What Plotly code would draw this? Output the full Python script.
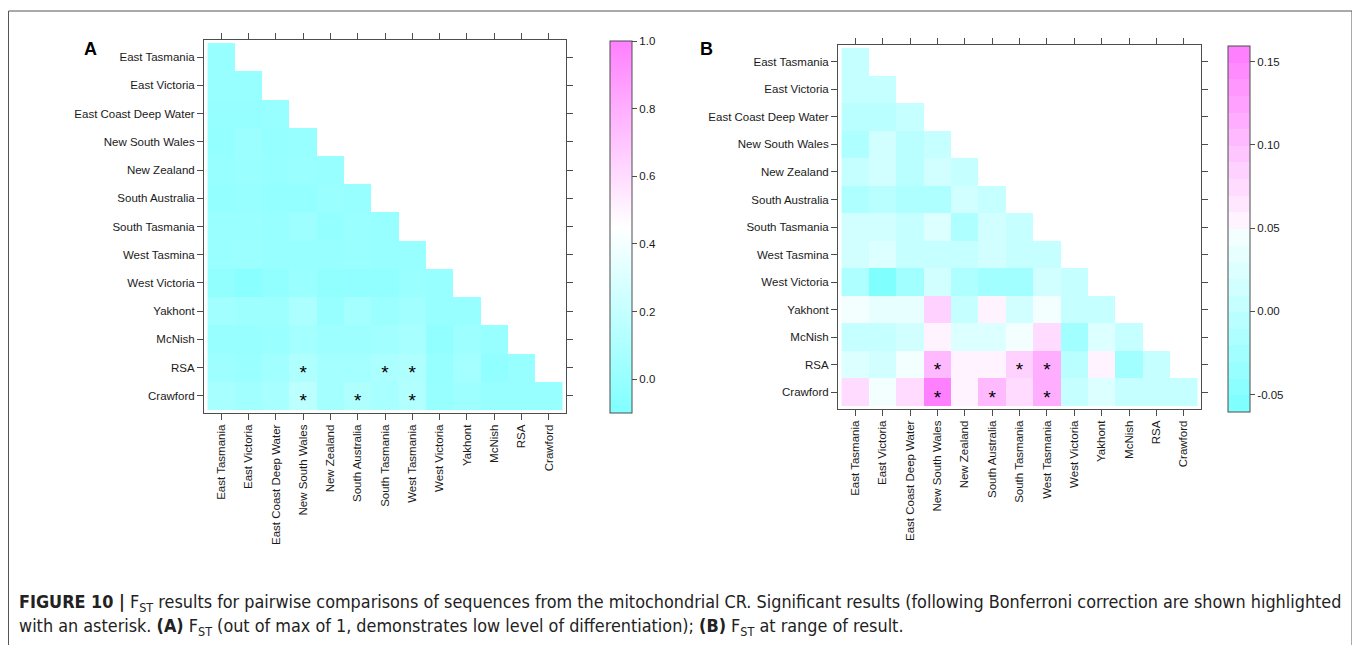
import colorsys
import plotly.graph_objects as go

# ---------------- data ----------------
row_labels = ["East Tasmania", "East Victoria", "East Coast Deep Water", "New South Wales",
              "New Zealand", "South Australia", "South Tasmania", "West Tasmina",
              "West Victoria", "Yakhont", "McNish", "RSA", "Crawford"]
col_labels = ["East Tasmania", "East Victoria", "East Coast Deep Water", "New South Wales",
              "New Zealand", "South Australia", "South Tasmania", "West Tasmania",
              "West Victoria", "Yakhont", "McNish", "RSA", "Crawford"]

# pairwise FST, lower triangle incl. diagonal (row i has i+1 values)
fst_rows = [
    [0.000],
    [0.000, 0.000],
    [-0.010, -0.010, 0.000],
    [-0.012, 0.015, -0.010, 0.000],
    [0.000, 0.012, -0.005, 0.012, 0.000],
    [-0.012, -0.002, -0.012, -0.012, 0.012, 0.000],
    [0.012, 0.012, 0.000, 0.025, -0.015, 0.012, 0.000],
    [0.010, 0.022, 0.000, 0.000, 0.000, 0.010, 0.000, 0.000],
    [-0.020, -0.055, -0.025, 0.012, -0.020, -0.025, -0.025, 0.012, 0.000],
    [0.045, 0.030, 0.030, 0.085, 0.000, 0.055, 0.015, 0.045, 0.000, 0.000],
    [0.000, 0.000, 0.012, 0.055, 0.025, 0.025, 0.045, 0.070, -0.025, 0.025, 0.000],
    [0.025, 0.012, 0.045, 0.105, 0.055, 0.055, 0.085, 0.110, -0.005, 0.055, -0.025, 0.000],
    [0.070, 0.045, 0.070, 0.155, 0.055, 0.105, 0.070, 0.115, 0.000, 0.025, 0.000, 0.000, 0.000],
]

# significant pairs
sig_rows = ["RSA", "RSA", "RSA", "Crawford", "Crawford", "Crawford"]
sig_cols = ["New South Wales", "South Tasmania", "West Tasmania",
            "New South Wales", "South Australia", "West Tasmania"]

a_ticks = [0.0, 0.2, 0.4, 0.6, 0.8, 1.0]
b_ticks = [-0.05, 0.00, 0.05, 0.10, 0.15]

# ---------------- helpers ----------------
OFF = 8  # page body margin
W, H = 1360 - OFF, 645 - OFF
def px(x):
    return (x - OFF) / W
def py(y):
    return 1 - (y - OFF) / H

n = len(row_labels)
z = [[(fst_rows[i][j] if j <= i else None) for j in range(n)] for i in range(n)]
idx = list(range(n))

def hsv_hex(h, s, v=1.0):
    r, g, b = colorsys.hsv_to_rgb(h, s, v)
    return "#%02x%02x%02x" % (round(r * 255), round(g * 255), round(b * 255))

# cm.colors(22) stepped scale for panel B
ncol = 22
k = ncol // 2
cm = []
for i in range(k):
    s = 0.5 - i * (0.5 - 0.5 / k) / (k - 1)
    cm.append(hsv_hex(6 / 12, s))
for i in range(1, k + 1):
    s = i * 0.5 / k
    cm.append(hsv_hex(10 / 12, s))
cs_b = []
for i, c in enumerate(cm):
    cs_b.append([i / ncol, c])
    cs_b.append([(i + 1) / ncol, c])

cs_a = [[0, "#80ffff"], [0.5, "#ffffff"], [1, "#ff80ff"]]

fig = go.Figure()

text_color = "#1a1a1a"
line_color = "#4d4d4d"
tick_font = dict(family="Liberation Sans, Arial, sans-serif", size=11.5, color=text_color)

panels = [
    dict(xa="x", ya="y", cs=cs_a, zmin=-0.1, zmax=1.0, ticks=a_ticks, fmt="%.1f",
         cbx=610, cby0=41, cby1=413),
    dict(xa="x2", ya="y2", cs=cs_b, zmin=-0.0605, zmax=0.1595, ticks=b_ticks, fmt="%.2f",
         cbx=1228, cby0=46, cby1=412),
]

for p in panels:
    fig.add_trace(go.Heatmap(
        z=z, x=idx, y=idx, xaxis=p["xa"], yaxis=p["ya"],
        colorscale=p["cs"], zmin=p["zmin"], zmax=p["zmax"], hoverongaps=False,
        colorbar=dict(
            x=px(p["cbx"]), xanchor="left", xpad=0, ypad=0,
            y=py(p["cby0"]), yanchor="top", lenmode="pixels", len=p["cby1"] - p["cby0"],
            thickness=22, thicknessmode="pixels",
            outlinewidth=1, outlinecolor=line_color,
            tickmode="array", tickvals=p["ticks"], ticktext=[p["fmt"] % t for t in p["ticks"]],
            ticks="outside", ticklen=5, tickcolor=line_color, tickfont=tick_font,
        ),
    ))
    fig.add_trace(go.Scatter(
        x=[col_labels.index(c) for c in sig_cols],
        y=[row_labels.index(r) + 0.24 for r in sig_rows],
        mode="text", text=["*"] * len(sig_rows),
        textfont=dict(family="Liberation Sans, Arial", size=19, color="black"),
        xaxis=p["xa"], yaxis=p["ya"], showlegend=False, hoverinfo="skip",
    ))

def xax(domain):
    return dict(domain=domain, range=[-0.63, n - 1 + 0.63], tickmode="array", tickvals=idx,
                ticktext=col_labels, tickangle=-90, ticks="outside", ticklen=6,
                tickcolor=line_color, showline=True, linecolor=line_color, linewidth=1,
                mirror="ticks", showgrid=False, zeroline=False, tickfont=tick_font,
                fixedrange=True, automargin=False)

def yax(domain, anchor):
    return dict(domain=domain, range=[n - 1 + 0.61, -0.61], tickmode="array", tickvals=idx,
                ticktext=row_labels, ticks="outside", ticklen=6, tickcolor=line_color,
                showline=True, linecolor=line_color, linewidth=1, mirror="ticks",
                showgrid=False, zeroline=False, tickfont=tick_font, anchor=anchor,
                fixedrange=True, automargin=False)

cap_font = dict(family="DejaVu Sans Condensed, Liberation Sans, Arial",
                size=17.85, color="#222222")

fig.update_layout(
    width=W, height=H, margin=dict(l=0, r=0, t=0, b=0),
    paper_bgcolor="white", plot_bgcolor="white", showlegend=False,
    xaxis=xax([px(204), px(566)]),
    yaxis=yax([py(413), py(40)], "x"),
    xaxis2=dict(xax([px(838), px(1201)]), anchor="y2"),
    yaxis2=yax([py(409), py(45)], "x2"),
    shapes=[dict(type="rect", xref="paper", yref="paper", x0=0.5 / W, x1=px(1352),
                 y0=-0.2, y1=py(11), line=dict(color="#555555", width=1))],
    annotations=[
        dict(text="<b>A</b>", x=px(82), y=py(37), xref="paper", yref="paper",
             showarrow=False, font=dict(family="Liberation Sans, Arial", size=18, color="black")),
        dict(text="<b>B</b>", x=px(707), y=py(37), xref="paper", yref="paper",
             showarrow=False, font=dict(family="Liberation Sans, Arial", size=18, color="black")),
        dict(text="<b>FIGURE 10 |</b> F<sub>ST</sub> results for pairwise comparisons of sequences from the mitochondrial CR. "
                  "Significant results (following Bonferroni correction are shown highlighted",
             x=px(17), y=py(603), xref="paper", yref="paper", xanchor="left", yanchor="middle",
             showarrow=False, font=cap_font),
        dict(text="with an asterisk. <b>(A)</b> F<sub>ST</sub> (out of max of 1, demonstrates low level of differentiation); "
                  "<b>(B)</b> F<sub>ST</sub> at range of result.",
             x=px(17), y=py(627), xref="paper", yref="paper", xanchor="left", yanchor="middle",
             showarrow=False, font=cap_font),
    ],
)

fig.write_html("out.html")
